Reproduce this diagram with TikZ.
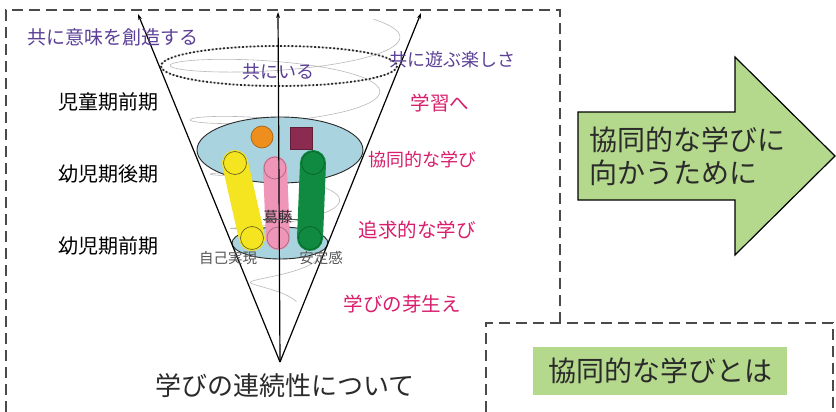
\documentclass[tikz,border=0pt]{standalone}
\usepackage{fontspec}
\setmainfont{Noto Sans CJK JP}
\usetikzlibrary{arrows.meta}
\definecolor{ink}{HTML}{2A2A2A}
\definecolor{lavender}{HTML}{5B3F96}
\definecolor{rose}{HTML}{D81E6C}
\definecolor{disk}{HTML}{A9D3DF}
\definecolor{orangeball}{HTML}{EE8E1C}
\definecolor{maroon}{HTML}{8C2B50}
\definecolor{barY}{HTML}{F5E420}
\definecolor{barP}{HTML}{EE95B8}
\definecolor{barG}{HTML}{108A40}
\definecolor{leaf}{HTML}{B5D98C}
\tikzset{
  frame/.style={draw=ink!85, line width=1.1pt, dash pattern=on 11pt off 6pt},
  coneline/.style={draw=black, line width=1.2pt, -{Stealth[length=6pt,width=4pt]}},
  purpletxt/.style={text=lavender, font=\fontsize{18}{21}\selectfont},
  rosetxt/.style={text=rose, font=\fontsize{19.5}{22}\selectfont},
  agetxt/.style={text=black, font=\fontsize{20}{23}\selectfont},
  smalltxt/.style={text=ink!80, font=\fontsize{14.5}{16}\selectfont},
  bigtxt/.style={text=ink, font=\fontsize{27}{32}\selectfont},
  ballring/.style={line width=0.7pt},
}
\begin{document}
\begin{tikzpicture}[x=1pt,y=-1pt]
\useasboundingbox (0,0) rectangle (836,412);
\fill[white] (0,0) rectangle (836,412);

% dashed frames
\draw[frame] (6,412) -- (6,10) -- (560,10) -- (560,323);
\draw[frame] (486,412) -- (486,323) -- (833,323) -- (833,412);

% cone geometry
\coordinate (apex) at (280,362);
\coordinate (ltip) at (138,14);
\coordinate (mtip) at (278,12);
\coordinate (rtip) at (421,13);

% spiral around the cone
\draw[gray!55, line width=0.6pt] plot[domain=-40:1760, samples=500, smooth]
  ({280 + 0.37*(362-(38+\x/1800*272))*cos(\x)},
   {(38+\x/1800*272) + 0.06*(362-(38+\x/1800*272))*sin(\x)});

% upper dotted rim
\draw[gray!60, line width=0.5pt] (279,66) ellipse [x radius=118, y radius=20];
\draw[ink, line width=1.8pt, dotted] (279,66) ellipse [x radius=118, y radius=20];

% discs
\draw[ink, line width=0.9pt, fill=disk] (280,150) ellipse [x radius=83, y radius=33];
\draw[ink, line width=0.9pt, fill=disk] (280,243) ellipse [x radius=48, y radius=16];

% top markers
\node[circle, fill=orangeball, draw=orangeball!70!black, ballring, minimum size=22pt, inner sep=0pt] (ball) at (262,137) {};
\node[rectangle, fill=maroon, draw=maroon!70!black, ballring, minimum size=22pt, inner sep=0pt] (cube) at (301,138) {};

% bars
\coordinate (ytop) at (235,163);
\coordinate (ybot) at (252,238);
\coordinate (ptop) at (275,168);
\coordinate (pbot) at (278,238);
\coordinate (gtop) at (313,163);
\coordinate (gbot) at (310,238);
\draw[barY, line width=26pt, line cap=round] (ytop) -- (ybot);
\draw[barP, line width=24pt, line cap=round] (ptop) -- (pbot);
\draw[barG, line width=26pt, line cap=round] (gtop) -- (gbot);
\draw[olive!70!black, ballring] (ytop) circle (11.5);
\draw[olive!70!black, ballring] (ybot) circle (11.5);
\draw[barP!70!black, ballring] (ptop) circle (11);
\draw[barP!70!black, ballring] (pbot) circle (11);
\draw[barG!70!black, ballring] (gtop) circle (11.5);
\draw[barG!70!black, ballring] (gbot) circle (11.5);

% cone edges and axis
\draw[coneline] (apex) -- (ltip);
\draw[coneline] (apex) -- (mtip);
\draw[coneline] (apex) -- (rtip);

% labels inside the cone
\node[smalltxt, text=ink] (conflict) at (278,217) {葛藤};
\draw[ink!80, line width=0.6pt] (263,219) -- (298,219);
\node[smalltxt] (selfreal) at (228,258) {自己実現};
\node[smalltxt] (secure) at (321,258) {安定感};

% purple captions
\node[purpletxt, font=\fontsize{19}{22}\selectfont] (create) at (113,37) {共に意味を創造する};
\node[purpletxt] (together) at (278,72) {共にいる};
\node[purpletxt] (playjoy) at (452,60) {共に遊ぶ楽しさ};

% stage captions
\node[rosetxt] (learn) at (440,103) {学習へ};
\node[rosetxt, font=\fontsize{18}{21}\selectfont] (coop) at (422,160) {協同的な学び};
\node[rosetxt] (inquiry) at (417,230) {追求的な学び};
\node[rosetxt] (sprout) at (402,304) {学びの芽生え};

% age captions
\node[agetxt] (child) at (108,102) {児童期前期};
\node[agetxt] (late) at (108,174) {幼児期後期};
\node[agetxt] (early) at (108,246) {幼児期前期};

% title
\node[bigtxt, font=\fontsize{26}{30}\selectfont] (title) at (285,386) {学びの連続性について};

% big arrow
\draw[black, line width=1.2pt, fill=leaf, line join=miter]
  (578,112) -- (735,112) -- (735,57) -- (835,156) -- (735,255) -- (735,200) -- (578,200) -- cycle;
\node[bigtxt, anchor=west, align=left, font=\fontsize{28}{33}\selectfont] (toward) at (586,156) {協同的な学びに\\向かうために};

% bottom label
\node[fill=leaf, minimum width=254pt, minimum height=48pt, inner sep=0pt, bigtxt, font=\fontsize{28}{32}\selectfont] (what) at (660,371) {協同的な学びとは};
\end{tikzpicture}
\end{document}
